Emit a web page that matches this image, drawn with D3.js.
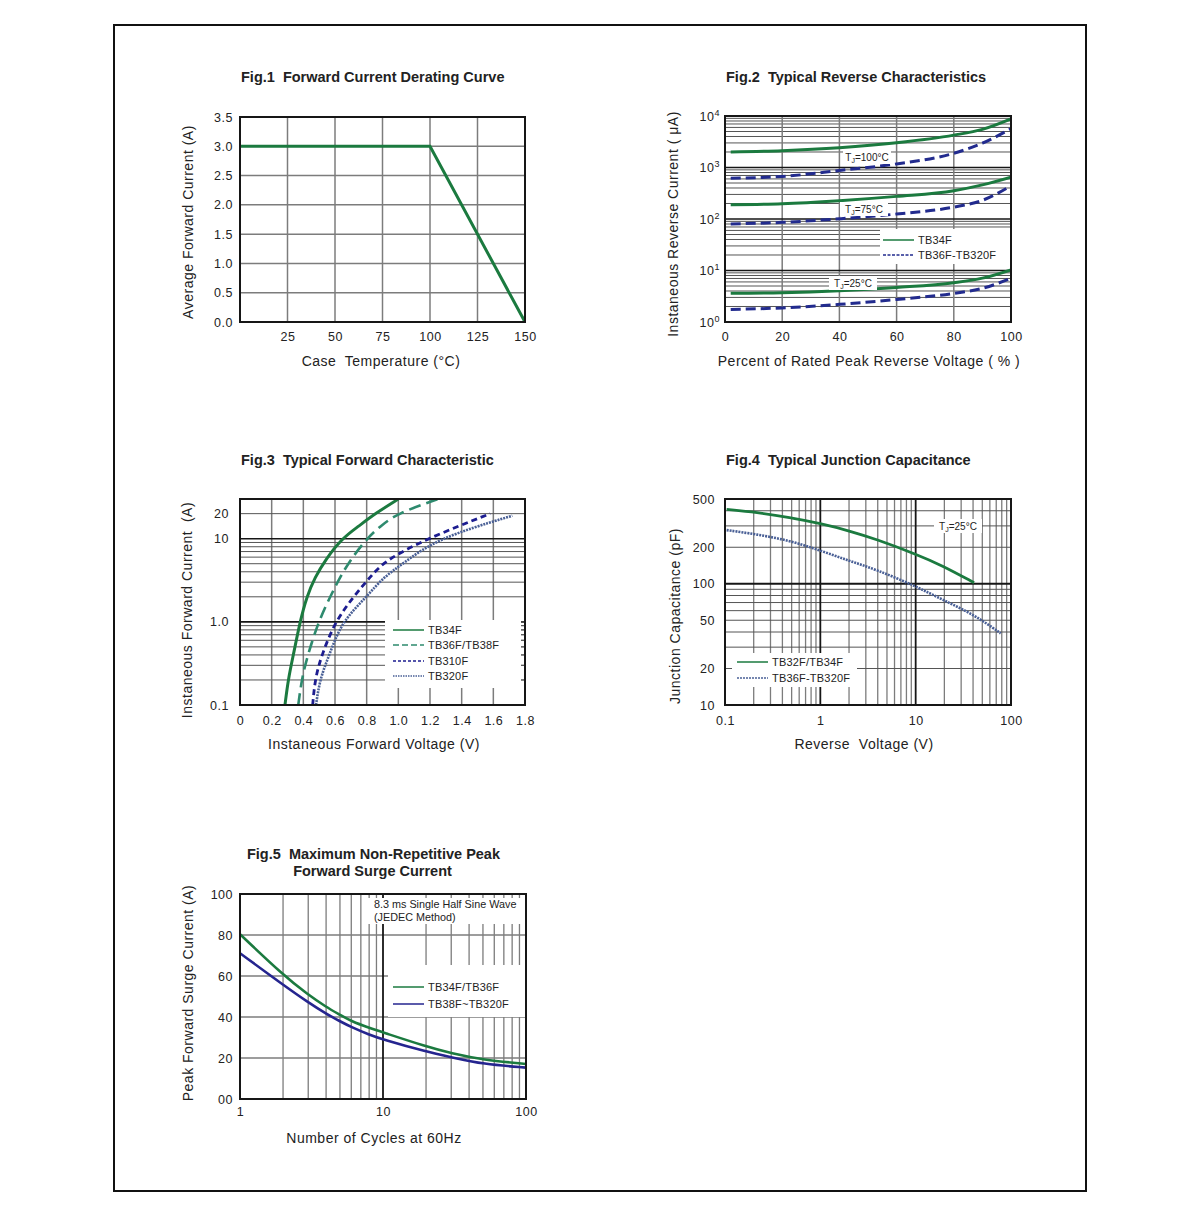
<!DOCTYPE html>
<html>
<head>
<meta charset="utf-8">
<script src="https://cdn.jsdelivr.net/npm/d3@7"></script>
<style>
  body { margin: 0; background: #fff; }
  text { font-family: "Liberation Sans", Arial, sans-serif; fill: #222; }
</style>
</head>
<body>
<script>
// ---- Fig.1 derating curve ----
const fig1Temp = [0, 100, 150];
const fig1Current = [3.0, 3.0, 0.0];
const fig1XTicks = [25, 50, 75, 100, 125, 150];
const fig1YTicks = [0, 0.5, 1.0, 1.5, 2.0, 2.5, 3.0, 3.5];

// ---- Fig.2 reverse characteristics (uA) ----
const fig2Pct = [2, 20, 40, 60, 80, 90, 100];
const fig2TB34F_100 = [2000, 2120, 2420, 3020, 4250, 5500, 8800];
const fig2TB36F_100 = [620, 670, 875, 1175, 1890, 2960, 5700];
const fig2TB34F_75 = [190, 198, 227, 275, 354, 460, 650];
const fig2TB36F_75 = [80, 86, 101, 125, 170, 230, 440];
const fig2TB34F_25 = [3.6, 3.7, 4.05, 4.7, 5.8, 7.1, 10.3];
const fig2TB36F_25 = [1.75, 1.88, 2.2, 2.74, 3.6, 4.5, 7.1];
const fig2XTicks = [0, 20, 40, 60, 80, 100];
const fig2YTicks = [1, 10, 100, 1000, 10000];

// ---- Fig.3 forward characteristic ----
const fig3TB34F_V = [0.284, 0.305, 0.337, 0.379, 0.421, 0.474, 0.537, 0.642, 0.747, 0.853, 1.0];
const fig3TB34F_I = [0.1, 0.207, 0.4, 1.0, 2, 3.44, 5.48, 10, 14, 20, 30];
const fig3TB36F_V = [0.368, 0.39, 0.428, 0.495, 0.569, 0.632, 0.695, 0.8, 0.884, 0.99, 1.25];
const fig3TB36F_I = [0.1, 0.207, 0.4, 1.0, 2, 3.44, 5.48, 10, 14, 20, 30];
const fig3TB310F_V = [0.459, 0.474, 0.516, 0.6, 0.716, 0.821, 0.916, 1.18, 1.58];
const fig3TB310F_I = [0.1, 0.207, 0.4, 1.0, 2, 3.44, 5.48, 10, 20];
const fig3TB320F_V = [0.48, 0.505, 0.564, 0.642, 0.8, 0.905, 1.03, 1.24, 1.72];
const fig3TB320F_I = [0.1, 0.207, 0.4, 1.0, 2, 3.44, 5, 10, 18.9];
const fig3XTicks = [0, 0.2, 0.4, 0.6, 0.8, 1.0, 1.2, 1.4, 1.6, 1.8];
const fig3YTicks = [0.1, 1, 10, 20];
const fig3YLabels = ["0.1", "1.0", "10", "20"];

// ---- Fig.4 junction capacitance ----
const fig4TB34F_V = [0.104, 0.214, 0.48, 1, 2.03, 3.85, 10, 19, 41];
const fig4TB34F_C = [410, 388, 352, 314, 273, 233, 176, 141.5, 102];
const fig4TB36F_V = [0.104, 0.214, 0.48, 1, 2.03, 3.85, 10, 19, 41, 78];
const fig4TB36F_C = [277, 256, 227, 188, 154, 131, 95.6, 74, 55.6, 39];
const fig4XTicks = [0.1, 1, 10, 100];
const fig4YTicks = [10, 20, 50, 100, 200, 500];

// ---- Fig.5 surge current ----
const fig5Cycles = [1, 2, 3, 4, 5, 6, 8, 10, 20, 30, 50, 100];
const fig5TB34F = [80.4, 60.5, 50.8, 44.9, 41.1, 37.9, 34.7, 32.5, 25.6, 22.3, 19.1, 17.1];
const fig5TB38F = [71.1, 55.7, 47.1, 41.6, 37.9, 35.1, 31.4, 29.0, 23.1, 20.4, 17.0, 15.3];
const fig5XTicks = [1, 10, 100];
const fig5YTicks = [0, 20, 40, 60, 80, 100];
const fig5YLabels = ["00", "20", "40", "60", "80", "100"];

const FONT = "Liberation Sans, Arial, sans-serif";
const GRID = "#7c7c7c", MINOR = "#555", DARK = "#161616";
const GREEN = "#1b7a3f", NAVY = "#222b8e", TEAL = "#2e8a6e", STEEL = "#4a6096", BLUE5 = "#25258f";

const svg = d3.select("body").append("svg").attr("width", 1200).attr("height", 1222);
svg.append("rect").attr("width", 1200).attr("height", 1222).attr("fill", "#fff");
svg.append("rect").attr("x", 114).attr("y", 25).attr("width", 972).attr("height", 1166)
  .attr("fill", "none").attr("stroke", "#111").attr("stroke-width", 2);

let clipN = 0;
function panel(x, y) {
  const g = svg.append("g");
  const id = "clip" + (++clipN);
  g.append("clipPath").attr("id", id).append("rect")
    .attr("x", x.range()[0]).attr("y", y.range()[1])
    .attr("width", x.range()[1] - x.range()[0]).attr("height", y.range()[0] - y.range()[1]);
  return { g, x, y, clip: "url(#" + id + ")" };
}

function logMinors(decades) {
  const out = [];
  decades.forEach(d => { for (let k = 2; k <= 9; k++) out.push(k * d); });
  return out;
}

function vLines(p, vals, color, width, y1, y2) {
  p.g.append("g").selectAll("line").data(vals).join("line")
    .attr("x1", d => p.x(d)).attr("x2", d => p.x(d))
    .attr("y1", y1 !== undefined ? y1 : p.y.range()[0])
    .attr("y2", y2 !== undefined ? y2 : p.y.range()[1])
    .attr("stroke", color).attr("stroke-width", width);
}

function hLines(p, vals, color, width, x1, x2) {
  p.g.append("g").selectAll("line").data(vals).join("line")
    .attr("y1", d => p.y(d)).attr("y2", d => p.y(d))
    .attr("x1", x1 !== undefined ? x1 : p.x.range()[0])
    .attr("x2", x2 !== undefined ? x2 : p.x.range()[1])
    .attr("stroke", color).attr("stroke-width", width);
}

function whiteBox(p, x, y, w, h) {
  p.g.append("rect").attr("x", x).attr("y", y).attr("width", w).attr("height", h).attr("fill", "#fff");
}

function frame(p) {
  p.g.append("rect")
    .attr("x", p.x.range()[0]).attr("y", p.y.range()[1])
    .attr("width", p.x.range()[1] - p.x.range()[0]).attr("height", p.y.range()[0] - p.y.range()[1])
    .attr("fill", "none").attr("stroke", DARK).attr("stroke-width", 2);
}

function curve(p, xs, ys, color, width, dash, type) {
  const pts = xs.map((v, i) => [v, ys[i]]);
  p.g.append("path").datum(pts).attr("clip-path", p.clip)
    .attr("fill", "none").attr("stroke", color).attr("stroke-width", width)
    .attr("stroke-dasharray", dash || null)
    .attr("d", d3.line().x(d => p.x(d[0])).y(d => p.y(d[1])).curve(type || d3.curveMonotoneX));
}

function styleAxis(a) {
  a.select(".domain").remove();
  a.attr("font-family", FONT).attr("font-size", 12.5).attr("letter-spacing", 0.5).attr("color", "#222");
}

function bottomAxis(p, vals, fmt, pad) {
  return p.g.append("g").attr("transform", "translate(0," + p.y.range()[0] + ")")
    .call(d3.axisBottom(p.x).tickValues(vals).tickFormat(fmt).tickSize(0).tickPadding(pad))
    .call(styleAxis);
}

function leftAxis(p, vals, fmt, pad) {
  return p.g.append("g").attr("transform", "translate(" + p.x.range()[0] + ",0)")
    .call(d3.axisLeft(p.y).tickValues(vals).tickFormat(fmt).tickSize(0).tickPadding(pad))
    .call(styleAxis);
}

function title(x, y, str, anchor) {
  svg.append("text").attr("x", x).attr("y", y).attr("text-anchor", anchor || "start")
    .attr("font-size", 14.5).attr("font-weight", "bold").style("white-space", "pre").text(str);
}

function xLabel(x, y, str) {
  svg.append("text").attr("x", x).attr("y", y).attr("text-anchor", "middle")
    .attr("font-size", 14).attr("letter-spacing", 0.5).style("white-space", "pre").text(str);
}

function yLabel(x, y, str) {
  svg.append("text").attr("transform", "translate(" + x + "," + y + ") rotate(-90)")
    .attr("text-anchor", "middle").attr("font-size", 14).attr("letter-spacing", 0.5)
    .style("white-space", "pre").text(str);
}

function smallText(p, x, y, str, size) {
  return p.g.append("text").attr("x", x).attr("y", y).attr("font-size", size || 11)
    .attr("letter-spacing", 0.2).style("white-space", "pre").text(str);
}

function legendEntry(p, x, y, color, width, dash, str) {
  p.g.append("line").attr("x1", x).attr("x2", x + 31).attr("y1", y).attr("y2", y)
    .attr("stroke", color).attr("stroke-width", width).attr("stroke-dasharray", dash || null);
  smallText(p, x + 35, y + 4, str);
}

function tjLabel(p, cx, baseline, temp) {
  whiteBox(p, cx - 24, baseline - 11, 48, 14);
  const t = p.g.append("text").attr("x", cx).attr("y", baseline).attr("text-anchor", "middle")
    .attr("font-size", 10);
  t.append("tspan").text("T");
  t.append("tspan").attr("font-size", 7).attr("dy", 2).text("J");
  t.append("tspan").attr("dy", -2).text("=" + temp + "°C");
}

// ================= Fig.1 =================
{
  const x = d3.scaleLinear().domain([0, 150]).range([240, 525]);
  const y = d3.scaleLinear().domain([0, 3.5]).range([322, 117]);
  const p = panel(x, y);
  vLines(p, [25, 50, 75, 100, 125], GRID, 1.5);
  hLines(p, [0.5, 1.0, 1.5, 2.0, 2.5, 3.0], GRID, 1.5);
  curve(p, fig1Temp, fig1Current, GREEN, 3, null, d3.curveLinear);
  frame(p);
  bottomAxis(p, fig1XTicks, d => d, 10);
  leftAxis(p, fig1YTicks, d3.format(".1f"), 7);
  title(241, 82, "Fig.1  Forward Current Derating Curve");
  xLabel(381, 366, "Case  Temperature (°C)");
  yLabel(193, 222, "Average Forward Current (A)");
}

// ================= Fig.2 =================
{
  const x = d3.scaleLinear().domain([0, 100]).range([725, 1011]);
  const y = d3.scaleLog().domain([1, 10000]).range([322, 116]);
  const p = panel(x, y);
  hLines(p, logMinors([1, 10, 100, 1000]), MINOR, 1);
  vLines(p, [20, 40, 60, 80], GRID, 1.5);
  hLines(p, [10, 100, 1000], DARK, 1.6);
  whiteBox(p, 880, 229, 131, 35);
  curve(p, fig2Pct, fig2TB34F_100, GREEN, 3);
  curve(p, fig2Pct, fig2TB36F_100, NAVY, 3, "10,5");
  curve(p, fig2Pct, fig2TB34F_75, GREEN, 3);
  curve(p, fig2Pct, fig2TB36F_75, NAVY, 3, "10,5");
  curve(p, fig2Pct, fig2TB34F_25, GREEN, 3);
  curve(p, fig2Pct, fig2TB36F_25, NAVY, 3, "10,5");
  tjLabel(p, 867, 161, "100");
  tjLabel(p, 864, 213, "75");
  tjLabel(p, 853, 287, "25");
  legendEntry(p, 883, 240, GREEN, 1.5, null, "TB34F");
  legendEntry(p, 883, 255, NAVY, 1.5, "3,1.5", "TB36F-TB320F");
  frame(p);
  bottomAxis(p, fig2XTicks, d => d, 10);
  leftAxis(p, fig2YTicks, () => "10", 5).selectAll(".tick text").each(function (d) {
    d3.select(this).append("tspan").attr("dy", "-0.55em").attr("font-size", 9)
      .text(Math.round(Math.log10(d)));
  });
  title(726, 82, "Fig.2  Typical Reverse Characteristics");
  xLabel(869, 366, "Percent of Rated Peak Reverse Voltage ( % )");
  yLabel(678, 224, "Instaneous Reverse Current ( μA)");
}

// ================= Fig.3 =================
{
  const x = d3.scaleLinear().domain([0, 1.8]).range([240, 525]);
  const y = d3.scaleLog().domain([0.1, 30]).range([705, 499]);
  const p = panel(x, y);
  vLines(p, [0.2, 0.4, 0.6, 0.8, 1.0, 1.2, 1.4, 1.6], GRID, 1.5);
  hLines(p, logMinors([0.1, 1]).concat([20]), MINOR, 1);
  hLines(p, [1, 10], DARK, 1.6);
  whiteBox(p, 385, 620, 136, 68);
  hLines(p, [0.2, 0.3, 0.4, 0.5, 0.6, 0.7, 0.8, 0.9, 1.0], MINOR, 1, 521, 525);
  const cb = d3.curveBasis;
  curve(p, fig3TB34F_V, fig3TB34F_I, GREEN, 3, null, cb);
  curve(p, fig3TB36F_V, fig3TB36F_I, TEAL, 2.6, "12,6", cb);
  curve(p, fig3TB310F_V, fig3TB310F_I, "#1d1d90", 2.8, "6,4", cb);
  curve(p, fig3TB320F_V, fig3TB320F_I, STEEL, 2.6, "2,1", cb);
  legendEntry(p, 393, 630, GREEN, 1.5, null, "TB34F");
  legendEntry(p, 393, 645, TEAL, 1.5, "6,3", "TB36F/TB38F");
  legendEntry(p, 393, 661, "#1d1d90", 1.5, "3,2", "TB310F");
  legendEntry(p, 393, 676, STEEL, 1.5, "1.5,1", "TB320F");
  frame(p);
  bottomAxis(p, fig3XTicks, d => d === 0 ? "0" : d3.format(".1f")(d), 11);
  leftAxis(p, fig3YTicks, (d, i) => fig3YLabels[i], 11);
  title(241, 465, "Fig.3  Typical Forward Characteristic");
  xLabel(374, 749, "Instaneous Forward Voltage (V)");
  yLabel(192, 610, "Instaneous Forward Current  (A)");
}

// ================= Fig.4 =================
{
  const x = d3.scaleLog().domain([0.1, 100]).range([725, 1011]);
  const y = d3.scaleLog().domain([10, 500]).range([705, 499]);
  const p = panel(x, y);
  vLines(p, logMinors([0.1, 1, 10]), GRID, 1.3);
  hLines(p, logMinors([10, 100]).filter(v => v < 500), MINOR, 1);
  vLines(p, [1, 10], DARK, 1.8);
  hLines(p, [100], DARK, 1.8);
  whiteBox(p, 732, 653, 125, 34);
  curve(p, fig4TB34F_V, fig4TB34F_C, GREEN, 2.8, null, d3.curveBasis);
  curve(p, fig4TB36F_V, fig4TB36F_C, STEEL, 2.6, "2,1", d3.curveBasis);
  legendEntry(p, 737, 662, GREEN, 1.5, null, "TB32F/TB34F");
  legendEntry(p, 737, 678, STEEL, 1.5, "2,1", "TB36F-TB320F");
  tjLabel(p, 958, 530, "25");
  frame(p);
  bottomAxis(p, fig4XTicks, d => d, 11);
  leftAxis(p, fig4YTicks, d => d, 10);
  title(726, 465, "Fig.4  Typical Junction Capacitance");
  xLabel(864, 749, "Reverse  Voltage (V)");
  yLabel(680, 616, "Junction Capacitance (pF)");
}

// ================= Fig.5 =================
{
  const x = d3.scaleLog().domain([1, 100]).range([240, 526]);
  const y = d3.scaleLinear().domain([0, 100]).range([1099, 894]);
  const p = panel(x, y);
  vLines(p, logMinors([1, 10]), GRID, 1.3);
  hLines(p, [20, 40, 60, 80], GRID, 1.5);
  vLines(p, [10], DARK, 1.8);
  whiteBox(p, 366, 895, 160, 29);
  vLines(p, logMinors([1, 10]).filter(v => x(v) > 366), GRID, 1.3, 894, 898);
  vLines(p, [10], DARK, 1.8, 894, 898);
  whiteBox(p, 388, 965, 138, 52);
  smallText(p, 374, 908, "8.3 ms Single Half Sine Wave", 10.8).attr("letter-spacing", 0);
  smallText(p, 374, 921, "(JEDEC Method)", 10.8).attr("letter-spacing", 0);
  curve(p, fig5Cycles, fig5TB34F, GREEN, 2.6, null, d3.curveBasis);
  curve(p, fig5Cycles, fig5TB38F, BLUE5, 2.6, null, d3.curveBasis);
  legendEntry(p, 393, 987, GREEN, 1.5, null, "TB34F/TB36F");
  legendEntry(p, 393, 1004, BLUE5, 1.5, null, "TB38F~TB320F");
  frame(p);
  bottomAxis(p, fig5XTicks, d => d, 8);
  leftAxis(p, fig5YTicks, (d, i) => fig5YLabels[i], 7);
  title(373.5, 859, "Fig.5  Maximum Non-Repetitive Peak", "middle");
  title(372.5, 876, "Forward Surge Current", "middle");
  xLabel(374, 1143, "Number of Cycles at 60Hz");
  yLabel(193, 993, "Peak Forward Surge Current (A)");
}
</script>
</body>
</html>
